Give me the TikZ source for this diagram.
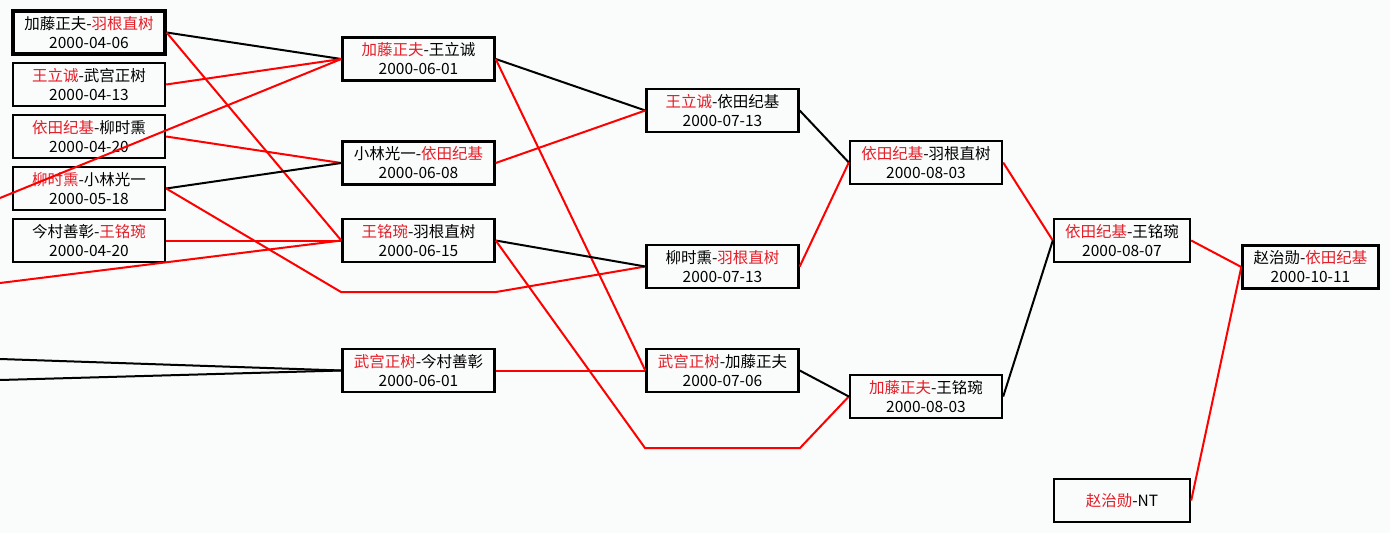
\documentclass[tikz,border=0pt]{standalone}
\usepackage{fontspec}
\setmainfont{Noto Sans CJK SC}
\definecolor{winred}{RGB}{228,30,40}
\definecolor{paper}{RGB}{250,251,251}
\newcommand{\win}[1]{\textcolor{winred}{#1}}
\tikzset{
  game/.style={draw=black, line width=2.4pt, minimum width=152pt, minimum height=43pt,
    inner sep=0pt, align=center, font=\fontsize{15.5}{19}\selectfont},
  shortgame/.style={game, minimum width=136pt},
  redline/.style={draw=red, line width=2pt},
  blackline/.style={draw=black, line width=2pt}
}

\begin{document}
\begin{tikzpicture}[x=1pt, y=-1pt]
  % page
  \fill[paper] (0,0) rectangle (1390,533);
  \useasboundingbox (0,0) rectangle (1390,533);

  % first round
  \node[game, line width=3.2pt] (b1) at (89,32.5) {加藤正夫-\win{羽根直树}\\2000-04-06};
  \node[game] (b2) at (89,84.5) {\win{王立诚}-武宫正树\\2000-04-13};
  \node[game] (b3) at (89,136.5) {\win{依田纪基}-柳时熏\\2000-04-20};
  \node[game] (b4) at (89,188.5) {\win{柳时熏}-小林光一\\2000-05-18};
  \node[game] (b5) at (89,240.5) {今村善彰-\win{王铭琬}\\2000-04-20};

  % second round
  \node[game] (c1) at (418.5,59) {\win{加藤正夫}-王立诚\\2000-06-01};
  \node[game] (c2) at (418.5,163) {小林光一-\win{依田纪基}\\2000-06-08};
  \node[game] (c3) at (418.5,240.5) {\win{王铭琬}-羽根直树\\2000-06-15};
  \node[game] (c4) at (418.5,370.5) {\win{武宫正树}-今村善彰\\2000-06-01};

  % third round
  \node[game] (d1) at (722.5,110.5) {\win{王立诚}-依田纪基\\2000-07-13};
  \node[game] (d2) at (722.5,266.5) {柳时熏-\win{羽根直树}\\2000-07-13};
  \node[game] (d3) at (722.5,370.5) {\win{武宫正树}-加藤正夫\\2000-07-06};

  % fourth round
  \node[game] (e1) at (926,162.5) {\win{依田纪基}-羽根直树\\2000-08-03};
  \node[game] (e2) at (926,396.5) {\win{加藤正夫}-王铭琬\\2000-08-03};

  % final rounds
  \node[shortgame] (f1) at (1122,240.5) {\win{依田纪基}-王铭琬\\2000-08-07};
  \node[shortgame] (f2) at (1122,500.5) {\win{赵治勋}-NT};
  \node[shortgame] (g1) at (1310.5,267) {赵治勋-\win{依田纪基}\\2000-10-11};

  % lines coming in from the left
  \coordinate (in1) at (0,198);
  \coordinate (in2) at (0,283);
  \coordinate (in3) at (0,359);
  \coordinate (in4) at (0,380);
  % corners of the bent lines
  \coordinate (k1) at (341,292);
  \coordinate (k2) at (496,292);
  \coordinate (k3) at (645,448);
  \coordinate (k4) at (800,448);

  \draw[blackline] (b1.east) -- (c1.west);
  \draw[redline] (b1.east) -- (c3.west);
  \draw[redline] (b2.east) -- (c1.west);
  \draw[redline] (in1) -- (c1.west);
  \draw[redline] (b3.east) -- (c2.west);
  \draw[blackline] (b4.east) -- (c2.west);
  \draw[redline] (b4.east) -- (k1) -- (k2) -- (d2.west);
  \draw[redline] (b5.east) -- (c3.west);
  \draw[redline] (in2) -- (c3.west);
  \draw[blackline] (in3) -- (c4.west);
  \draw[blackline] (in4) -- (c4.west);

  \draw[blackline] (c1.east) -- (d1.west);
  \draw[redline] (c1.east) -- (d3.west);
  \draw[redline] (c2.east) -- (d1.west);
  \draw[blackline] (c3.east) -- (d2.west);
  \draw[redline] (c3.east) -- (k3) -- (k4) -- (e2.west);
  \draw[redline] (c4.east) -- (d3.west);

  \draw[blackline] (d1.east) -- (e1.west);
  \draw[redline] (d2.east) -- (e1.west);
  \draw[blackline] (d3.east) -- (e2.west);

  \draw[redline] (e1.east) -- (f1.west);
  \draw[blackline] (e2.east) -- (f1.west);
  \draw[redline] (f1.east) -- (g1.west);
  \draw[redline] (f2.east) -- (g1.west);
\end{tikzpicture}
\end{document}
